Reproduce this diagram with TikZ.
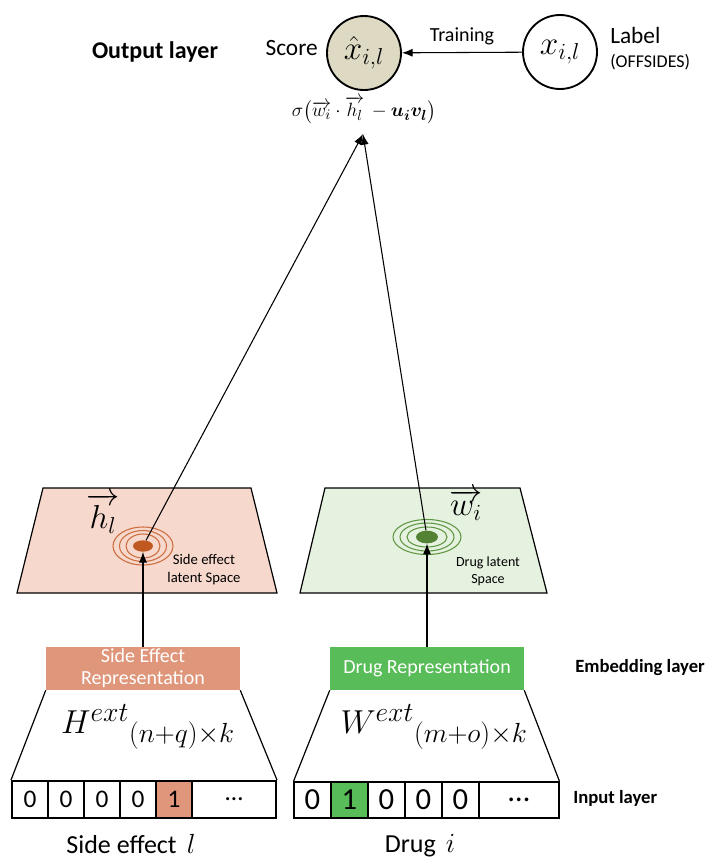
\documentclass[tikz,border=0pt]{standalone}
\usepackage{amsmath}
\usepackage{bm}
\usepackage{fontspec}
\setmainfont{Carlito}
\usetikzlibrary{arrows.meta,shapes.geometric}
\definecolor{beige}{RGB}{221,217,195}
\definecolor{salmon}{RGB}{223,150,122}
\definecolor{grbox}{RGB}{88,188,88}
\definecolor{pinkplane}{RGB}{246,216,204}
\definecolor{greenplane}{RGB}{230,242,224}
\definecolor{orangedot}{RGB}{192,88,34}
\definecolor{orangering}{RGB}{205,110,65}
\definecolor{greendot}{RGB}{84,130,53}
\definecolor{greenring}{RGB}{95,150,65}
\begin{document}
\begin{tikzpicture}[x=0.75pt,y=-0.75pt,
  circ/.style={circle,draw,line width=1.4pt,minimum size=55.5pt,inner sep=0pt,font=\fontsize{26}{30}\selectfont},
  lbl/.style={font=\fontsize{17.5}{20}\selectfont,inner sep=0pt},
  layername/.style={font=\bfseries\fontsize{14}{17}\selectfont,inner sep=0pt,anchor=west},
  plane/.style={draw,line width=0.9pt},
  rep/.style={minimum width=145.5pt,minimum height=32.25pt,inner sep=0pt,text=white,align=center,font=\fontsize{15}{16.5}\selectfont},
  cellL/.style={draw,line width=1.5pt,minimum height=27.75pt,minimum width=27pt,inner sep=0pt,font=\fontsize{19}{21}\selectfont},
  cellR/.style={draw,line width=0.8pt,minimum height=27pt,minimum width=27.75pt,inner sep=0pt,font=\fontsize{23}{25}\selectfont},
  arr/.style={-{Latex[length=8pt,width=6pt]},line width=0.8pt},
  funnel/.style={line width=0.9pt},
  caption/.style={font=\fontsize{19.5}{23}\selectfont,inner sep=0pt}]
\useasboundingbox (0,0) rectangle (709,861);

% output layer
\node[layername,anchor=center,font=\bfseries\fontsize{18}{21}\selectfont] (outlayer) at (155,52) {Output layer};
\node[circ,fill=beige] (score) at (364,53) {$\hat{x}_{i,l}$};
\node[circ,fill=white] (label) at (560,52) {$x_{i,l}$};
\node[lbl,anchor=east] (scoretxt) at (318,48) {Score};
\node[lbl,anchor=west] (labeltxt) at (610,35) {Label};
\node[font=\fontsize{13.5}{15}\selectfont,inner sep=0pt,anchor=west] (offs) at (610,62) {(OFFSIDES)};
\draw[arr] (label) -- (score) node[midway,above=5pt,font=\fontsize{15}{17}\selectfont,inner sep=0pt] (train) {Training};
\node[font=\fontsize{15.5}{18}\selectfont,inner sep=0pt] (formula) at (364,110) {$\sigma\bigl(\overrightarrow{w_i}\cdot\overrightarrow{h_l}\,-\bm{u_i v_l}\bigr)$};
\coordinate (tip) at (363,134);

% latent planes
\filldraw[plane,fill=pinkplane] (43,488) -- (251,488) -- (277,593) -- (17,593) -- cycle;
\filldraw[plane,fill=greenplane] (325,488) -- (520,488) -- (547,593) -- (300,593) -- cycle;

% rings
\foreach \a/\b in {17/12,23.5/15.5,30/19}{
  \draw[orangering,line width=0.8pt] (143,546) ellipse ({\a} and {\b});}
\foreach \a/\b in {20/10,27/14,34/17.5}{
  \draw[greenring,line width=0.8pt] (427,537) ellipse ({\a} and {\b});}
\node[ellipse,fill=orangedot,minimum width=15pt,minimum height=8.5pt,inner sep=0pt] (hdot) at (143,546) {};
\node[ellipse,fill=greendot,minimum width=16.5pt,minimum height=9.5pt,inner sep=0pt] (wdot) at (427,537) {};

\node[font=\fontsize{23}{26}\selectfont,inner sep=0pt] (hvec) at (103,513) {$\overrightarrow{h_l}$};
\node[font=\fontsize{23}{26}\selectfont,inner sep=0pt] (wvec) at (466,505) {$\overrightarrow{w_i}$};
\node[font=\fontsize{11}{13.5}\selectfont,align=center,inner sep=0pt] (selat) at (204,570) {Side effect\\latent Space};
\node[font=\fontsize{10.5}{13}\selectfont,align=center,inner sep=0pt] (drlat) at (488,571) {Drug latent\\Space};

% connectors to score
\draw[arr] (hdot) -- (tip);
\draw[arr] (wdot) -- (tip);

% embedding boxes
\node[rep,fill=salmon] (serep) at (143,668.5) {Side Effect\\Representation};
\node[rep,fill=grbox] (drrep) at (427,668.5) {Drug Representation};
\draw[arr] (serep.north) -- (hdot.south);
\draw[arr] (drrep.north) -- (wdot.south);
\node[layername] (emb) at (575,668) {Embedding layer};

% input cells left
\node[cellL] (l1) at (30,799.5) {0};
\node[cellL] (l2) at (66,799.5) {0};
\node[cellL] (l3) at (102,799.5) {0};
\node[cellL] (l4) at (138,799.5) {0};
\node[cellL,fill=salmon] (l5) at (174,799.5) {1};
\node[cellL,minimum width=63pt] (l6) at (234,799.5) {\dots};
% input cells right
\node[cellR] (r1) at (312.5,800) {0};
\node[cellR,fill=grbox] (r2) at (349.5,800) {1};
\node[cellR] (r3) at (386.5,800) {0};
\node[cellR] (r4) at (423.5,800) {0};
\node[cellR] (r5) at (460.5,800) {0};
\node[cellR,minimum width=60pt] (r6) at (519,800) {\dots};
\node[layername] (inp) at (573,798) {Input layer};

% funnels
\draw[funnel] (serep.south west) -- (l1.north west);
\draw[funnel] (serep.south east) -- (l6.north east);
\draw[funnel] (drrep.south west) -- (r1.north west);
\draw[funnel] (drrep.south east) -- (r6.north east);
\node[font=\fontsize{28}{32}\selectfont,inner sep=0pt] (hmat) at (148,727) {${H^{ext}}_{(n+q)\times k}$};
\node[font=\fontsize{28}{32}\selectfont,inner sep=0pt] (wmat) at (434,727) {${W^{ext}}_{(m+o)\times k}$};

\node[caption] (secap) at (131,844) {Side effect \,$l$};
\node[caption] (drcap) at (420,846) {Drug \,$i$};
\end{tikzpicture}
\end{document}
